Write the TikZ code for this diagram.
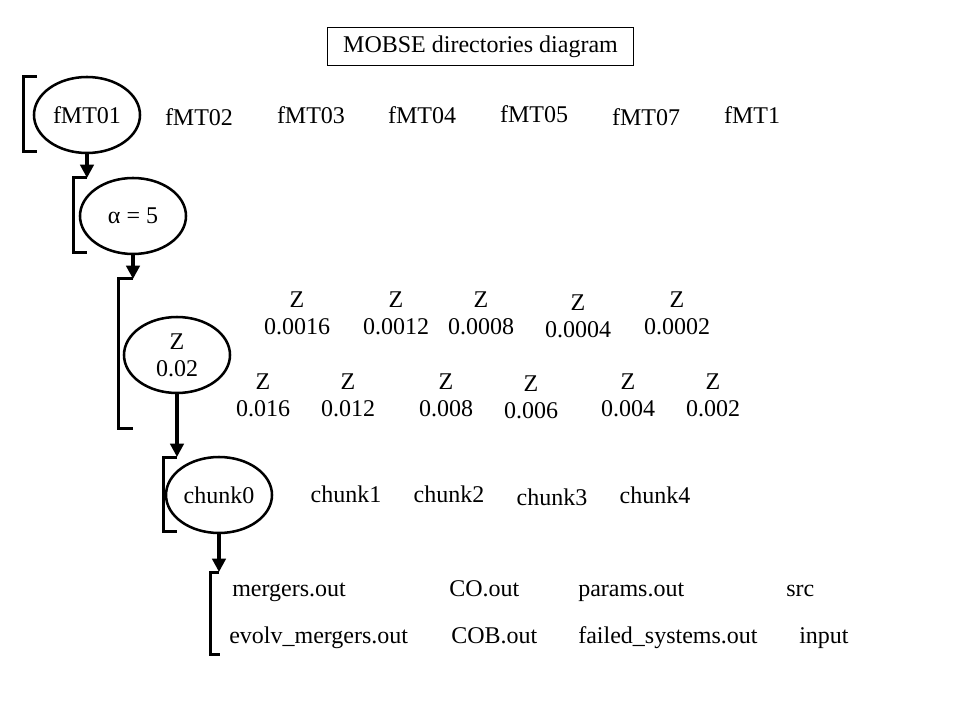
\documentclass[tikz,border=0pt]{standalone}
\usepackage{fontspec}
\setmainfont{Liberation Serif}
\usetikzlibrary{shapes.geometric,arrows.meta}
\tikzset{
  ell/.style={draw,ellipse,line width=1.9pt,inner sep=0pt,minimum width=79.5pt,minimum height=57pt,align=center},
  brk/.style={line width=2.25pt},
  arr/.style={line width=2.8pt,-{Triangle[width=10pt,length=10pt]}},
  lbl/.style={inner sep=0pt,align=center},
  fname/.style={inner sep=0pt,anchor=base west},
  titlebox/.style={draw,line width=0.75pt,minimum width=230pt,minimum height=29pt,inner sep=0pt}
}
\begin{document}
\begin{tikzpicture}[x=0.75pt,y=-0.75pt,font=\fontsize{18}{20.25}\selectfont]
\useasboundingbox (0,0) rectangle (960,720);
% title
\node[titlebox] (title) at (480.5,46.5) {MOBSE directories diagram};
% ellipses
\node[ell] (e1) at (87,115) {fMT01};
\node[ell] (e2) at (133,216) {α = 5};
\node[ell] (e3) at (177,355) {Z\\0.02};
\node[ell] (e4) at (219,495) {chunk0};
% bracket corner coordinates
\coordinate (b1t) at (37,77);   \coordinate (b1a) at (23,77);  \coordinate (b1b) at (23,152);  \coordinate (b1e) at (37,152);
\coordinate (b2t) at (87,178);  \coordinate (b2a) at (73,178); \coordinate (b2b) at (73,253);  \coordinate (b2e) at (87,253);
\coordinate (b3t) at (133,279); \coordinate (b3a) at (118,279);\coordinate (b3b) at (118,428); \coordinate (b3e) at (133,428);
\coordinate (b4t) at (177,457); \coordinate (b4a) at (163,457);\coordinate (b4b) at (163,531); \coordinate (b4e) at (177,531);
\coordinate (b5t) at (219,572); \coordinate (b5a) at (210,572);\coordinate (b5b) at (210,654); \coordinate (b5e) at (220,654);
\draw[brk] (b1t) -- (b1a) -- (b1b) -- (b1e);
\draw[brk] (b2t) -- (b2a) -- (b2b) -- (b2e);
\draw[brk] (b3t) -- (b3a) -- (b3b) -- (b3e);
\draw[brk] (b4t) -- (b4a) -- (b4b) -- (b4e);
\draw[brk] (b5t) -- (b5a) -- (b5b) -- (b5e);
% arrows
\draw[arr] (e1.south) -- (b2t);
\draw[arr] (e2.south) -- (b3t);
\draw[arr] (e3.south) -- (b4t);
\draw[arr] (e4.south) -- (b5t);
% fMT row
\node[lbl] (f2) at (199,117) {fMT02};
\node[lbl] (f3) at (311,115) {fMT03};
\node[lbl] (f4) at (422,115) {fMT04};
\node[lbl] (f5) at (534,114) {fMT05};
\node[lbl] (f7) at (646,117) {fMT07};
\node[lbl] (f10) at (752,115) {fMT1};
% Z rows
\node[lbl] (z1) at (297,313.5) {Z\\0.0016};
\node[lbl] (z2) at (396,313.5) {Z\\0.0012};
\node[lbl] (z3) at (481,313.5) {Z\\0.0008};
\node[lbl] (z4) at (578,316.5) {Z\\0.0004};
\node[lbl] (z5) at (677,313.5) {Z\\0.0002};
\node[lbl] (z6) at (263,395.5) {Z\\0.016};
\node[lbl] (z7) at (348,395.5) {Z\\0.012};
\node[lbl] (z8) at (446,395.5) {Z\\0.008};
\node[lbl] (z9) at (531,397.5) {Z\\0.006};
\node[lbl] (z10) at (628,395.5) {Z\\0.004};
\node[lbl] (z11) at (713,395.5) {Z\\0.002};
% chunks
\node[lbl] (c1) at (346,494) {chunk1};
\node[lbl] (c2) at (449,494) {chunk2};
\node[lbl] (c3) at (552,497) {chunk3};
\node[lbl] (c4) at (655,495) {chunk4};
% files
\node[fname] (o1) at (232,596) {mergers.out};
\node[fname] (o2) at (449,596) {CO.out};
\node[fname] (o3) at (578,596) {params.out};
\node[fname] (o4) at (786,596) {src};
\node[fname] (o5) at (229,643) {evolv\_mergers.out};
\node[fname] (o6) at (451,643) {COB.out};
\node[fname] (o7) at (578,643) {failed\_systems.out};
\node[fname] (o8) at (799,643) {input};
\end{tikzpicture}
\end{document}
